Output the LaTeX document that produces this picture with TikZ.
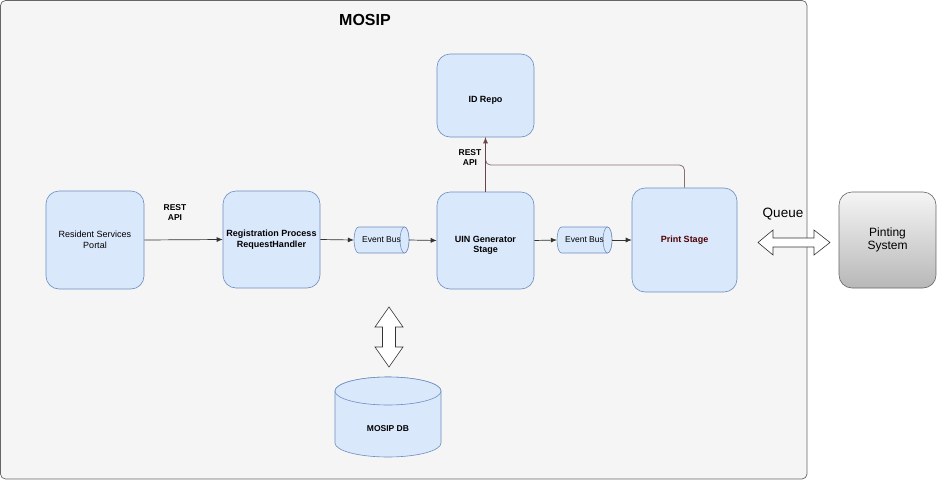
\documentclass[tikz,border=0pt]{standalone}
\usepackage{fontspec}
\setmainfont{Liberation Sans}
\usetikzlibrary{arrows.meta}
\definecolor{boxfill}{HTML}{DAE8FC}
\definecolor{boxline}{HTML}{6C8EBF}
\definecolor{contfill}{HTML}{F5F5F5}
\definecolor{contline}{HTML}{666666}
\definecolor{linkdark}{HTML}{333333}
\definecolor{brownA}{HTML}{6B4545}
\definecolor{brownB}{HTML}{8C7070}
\definecolor{printtxt}{HTML}{4D0000}
\tikzset{
  stagebox/.style={draw=boxline, fill=boxfill, rounded corners=13pt, line width=0.6pt,
    align=center, inner sep=2pt, font=\fontsize{9}{10.5}\selectfont, text=black},
  boldtext/.style={font=\fontsize{9}{10.5}\selectfont\bfseries},
  lowtext/.style={label={[boldtext, align=center, yshift=-5pt]center:#1}},
  flow/.style={draw=linkdark, line width=0.7pt, -{Latex[length=6pt,width=5pt]}},
  lbl/.style={align=center, font=\fontsize{8.5}{10}\selectfont\bfseries, inner sep=0pt},
  bustext/.style={font=\fontsize{8.5}{10}\selectfont, inner sep=0pt, minimum width=55pt, minimum height=26pt},
  busshape/.style={draw=boxline, fill=boxfill, line width=0.6pt},
  fatarrow/.style={draw=linkdark, fill=white, line width=0.6pt, line join=miter},
}
\begin{document}
\begin{tikzpicture}[x=1pt,y=1pt]
\useasboundingbox (0,0) rectangle (937,-482);
% container
\draw[draw=contline, fill=contfill, rounded corners=5pt, line width=0.7pt] (0.5,-0.5) rectangle (807,-479);
\node[font=\fontsize{16}{18}\selectfont\bfseries, inner sep=0pt] (title) at (365,-20) {MOSIP};

% stages
\node[stagebox, minimum width=98pt, minimum height=98pt] (rsp) at (95,-240) {Resident Services\\Portal};
\node[stagebox, boldtext, minimum width=97pt, minimum height=97pt] (rph) at (271.5,-239.5) {Registration Process\\RequestHandler};
\node[stagebox, minimum width=97pt, minimum height=83pt, lowtext={ID Repo}] (idr) at (485.5,-95.5) {};
\node[stagebox, minimum width=97pt, minimum height=97pt, lowtext={UIN Generator\\Stage}] (uin) at (485.5,-240.5) {};
\node[stagebox, boldtext, minimum width=105pt, minimum height=104pt, text=printtxt] (prt) at (684.5,-240) {Print Stage};

% printing system
\node[draw=contline, rounded corners=13pt, line width=0.6pt, top color=contfill, bottom color=black!28,
  minimum width=97pt, minimum height=96pt, align=center, font=\fontsize{12}{13.5}\selectfont] (pts) at (887.5,-240) {Pinting\\System};

% event buses
\path[busshape] (358.5,-227) -- (404.5,-227) arc (90:-90:4.5 and 13) -- (358.5,-253) arc (270:90:4.5 and 13) -- cycle;
\draw[busshape] (404.5,-240) ellipse (4.5 and 13);
\node[bustext] (eb1) at (381.5,-240) {Event Bus};
\path[busshape] (561.5,-227) -- (607.5,-227) arc (90:-90:4.5 and 13) -- (561.5,-253) arc (270:90:4.5 and 13) -- cycle;
\draw[busshape] (607.5,-240) ellipse (4.5 and 13);
\node[bustext] (eb2) at (584.5,-240) {Event Bus};

% database
\path[busshape] (335,-391) -- (335,-443) arc (180:360:53 and 14) -- (441,-391) arc (0:180:53 and 14) -- cycle;
\draw[busshape] (388,-391) ellipse (53 and 14);
\node[font=\fontsize{8.5}{10}\selectfont\bfseries, inner sep=0pt] (db) at (388,-429) {MOSIP DB};

% connectors
\draw[flow] (rsp.east) -- (rph.west);
\node[lbl] (rest1) at (175,-213) {REST\\API};
\draw[flow] (rph.east) -- (eb1.west);
\draw[flow] (eb1.east) -- (uin.west);
\draw[flow] (uin.east) -- (eb2.west);
\draw[flow] (eb2.east) -- (prt.west);

\coordinate (jn) at (485.5,-165);
\draw[draw=brownB, line width=0.8pt, rounded corners=5pt] (prt.north) |- (jn) -- (idr.south);
\draw[draw=brownA, line width=0.8pt, -{Latex[length=6pt,width=5pt]}] (uin.north) -- (idr.south);
\node[lbl] (rest2) at (470,-158) {REST\\API};

% double arrows
\draw[fatarrow] (389,-307) -- (403,-327) -- (395.5,-327) -- (395.5,-347) -- (403,-347) -- (389,-367)
  -- (375,-347) -- (382.5,-347) -- (382.5,-327) -- (375,-327) -- cycle;
\draw[fatarrow] (758,-242.5) -- (773,-230) -- (773,-238) -- (814,-238) -- (814,-230) -- (830,-242.5)
  -- (814,-255) -- (814,-247) -- (773,-247) -- (773,-255) -- cycle;
\node[font=\fontsize{13.5}{15}\selectfont, inner sep=0pt] (queue) at (783,-214) {Queue};
\end{tikzpicture}
\end{document}
